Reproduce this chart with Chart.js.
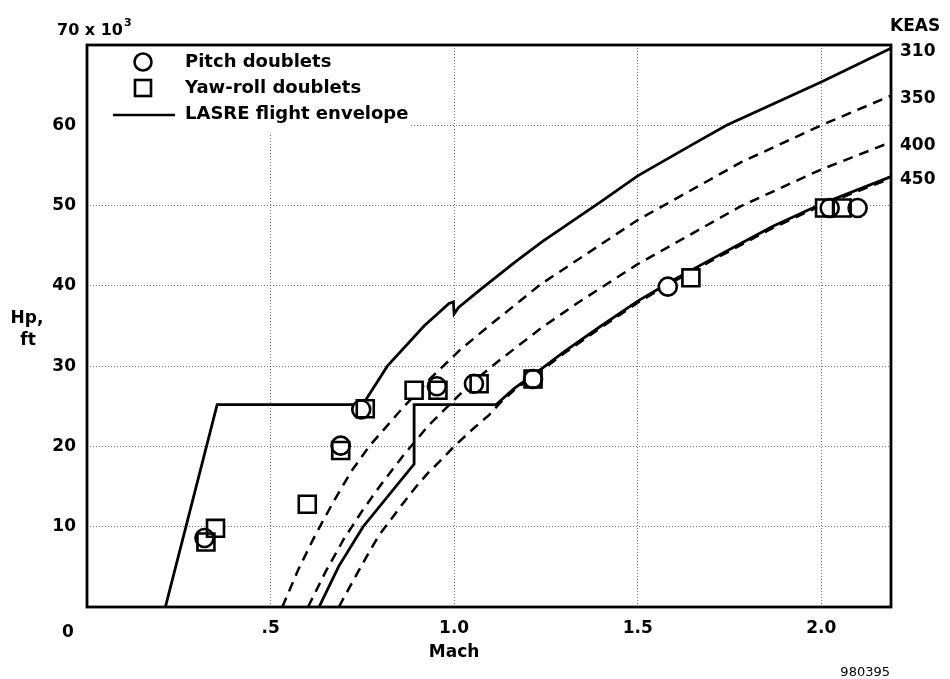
<!DOCTYPE html>
<html>
<head>
<meta charset="utf-8">
<title>LASRE flight envelope</title>
<script src="https://cdn.jsdelivr.net/npm/chart.js@4.4.1/dist/chart.umd.min.js"></script>
<style>
  html, body { margin: 0; padding: 0; background: #fff; }
</style>
</head>
<body>
<canvas id="envChart" width="950" height="679"></canvas>
<script>
// axis ticks (Mach, and Hp in thousands of ft)
const machTicks = [0, 0.5, 1.0, 1.5, 2.0];
const machTickLabels = ['', '.5', '1.0', '1.5', '2.0'];
const hpTicks = [0, 10, 20, 30, 40, 50, 60, 70];
const hpTickLabels = ['', '10', '20', '30', '40', '50', '60', ''];

// test points
const pitchMach = [0.32, 0.691, 0.747, 0.953, 1.054, 1.215, 1.582, 2.023, 2.099];
const pitchHp   = [8.6, 20.1, 24.6, 27.5, 27.8, 28.4, 39.9, 49.7, 49.7];
const yawMach = [0.324, 0.35, 0.6, 0.691, 0.758, 0.891, 0.956, 1.068, 1.215, 1.645, 2.009, 2.057];
const yawHp   = [8.1, 9.8, 12.8, 19.5, 24.7, 27.0, 27.0, 27.8, 28.4, 41.0, 49.7, 49.7];

// envelope boundaries (solid)
const upperMach = [0.2135, 0.3545, 0.751, 0.818, 0.918, 0.986, 0.998, 1.0, 1.012, 1.073, 1.164, 1.24, 1.291, 1.4, 1.5, 1.645, 1.742, 2.0, 2.19];
const upperHp   = [0, 25.2, 25.2, 30.0, 35.0, 37.8, 38.0, 36.5, 37.3, 39.6, 42.9, 45.5, 47.1, 50.5, 53.7, 57.5, 60.0, 65.4, 69.6];
const lowerMach = [0.632, 0.686, 0.752, 0.891, 0.891, 1.114, 1.163, 1.236, 1.3, 1.4, 1.5, 1.6, 1.7, 1.782, 1.867, 2.0, 2.19];
const lowerHp   = [0, 5.1, 10.0, 17.8, 25.2, 25.2, 27.2, 29.6, 31.8, 35.0, 38.1, 40.8, 43.3, 45.3, 47.4, 50.2, 53.6];

// constant KEAS lines (dashed)
const keas350Mach = [0.532, 0.575, 0.62, 0.67, 0.72, 0.77, 0.818, 0.862, 0.936, 1.018, 1.1, 1.236, 1.5, 1.782, 2.0, 2.19];
const keas350Hp   = [0, 4.6, 8.8, 13.0, 16.9, 20.1, 22.6, 24.9, 28.5, 32.1, 35.2, 40.2, 48.2, 55.4, 60.0, 63.7];
const keas400Mach = [0.602, 0.65, 0.70, 0.75, 0.80, 0.862, 0.93, 1.04, 1.12, 1.236, 1.337, 1.5, 1.78, 2.0, 2.19];
const keas400Hp   = [0, 4.4, 8.5, 12.0, 15.2, 18.9, 22.6, 27.6, 30.6, 34.7, 37.9, 42.7, 49.9, 54.5, 57.9];
const keas450Mach = [0.686, 0.718, 0.768, 0.795, 0.859, 0.893, 0.929, 0.971, 1.0, 1.054, 1.095, 1.127, 1.163, 1.236, 1.3, 1.4, 1.5, 1.6, 1.7, 1.782, 1.867, 2.0, 2.19];
const keas450Hp   = [0, 2.7, 6.8, 8.9, 12.8, 14.8, 16.7, 18.6, 20.0, 22.3, 23.9, 25.5, 27.0, 29.4, 31.6, 34.8, 37.9, 40.6, 43.1, 45.1, 47.2, 50.0, 53.4];

// right-hand labels for the constant KEAS lines
const keasLabels = ['310', '350', '400', '450'];

const toPts = (xs, ys) => xs.map((m, i) => ({ x: m, y: ys[i] }));

Chart.defaults.font.family = "'DejaVu Sans', sans-serif";
Chart.defaults.color = '#000';

const tickFont = { family: "'DejaVu Sans', sans-serif", weight: 'bold', size: 17 };
const gridColor = 'rgba(0,0,0,0.55)';

function markerSet(label, pts, style, radius, fill) {
  return {
    label: label,
    data: pts,
    showLine: false,
    pointStyle: style,
    pointRadius: radius,
    pointBorderWidth: fill ? 0 : 2.6,
    pointBorderColor: fill ? 'rgba(0,0,0,0)' : '#000',
    pointBackgroundColor: fill ? '#fff' : 'rgba(0,0,0,0)'
  };
}

function curveSet(label, pts, dashed) {
  return {
    label: label,
    data: pts,
    showLine: true,
    pointRadius: 0,
    borderColor: '#000',
    borderWidth: dashed ? 2.5 : 2.8,
    borderDash: dashed ? [10, 7] : [],
    tension: 0,
    fill: false
  };
}

const pitchPts = toPts(pitchMach, pitchHp);
const yawPts = toPts(yawMach, yawHp);
const upperPts = toPts(upperMach, upperHp);
const k350Pts = toPts(keas350Mach, keas350Hp);
const k400Pts = toPts(keas400Mach, keas400Hp);
const lowerPts = toPts(lowerMach, lowerHp);

// frame, legend, axis titles and KEAS labels
const envelopeDecor = {
  id: 'envelopeDecor',
  afterDatasetsDraw(chart) {
    const { ctx, chartArea: a, scales: { x, y } } = chart;
    ctx.save();
    ctx.setLineDash([]);

    // legend block
    ctx.fillStyle = '#fff';
    ctx.fillRect(a.left + 2, a.top + 2, 408 - a.left, 131 - a.top);
    ctx.strokeStyle = '#000';
    ctx.lineWidth = 2.6;
    ctx.beginPath();
    ctx.arc(143, 62, 8.5, 0, Math.PI * 2);
    ctx.stroke();
    ctx.strokeRect(135, 80, 16, 16);
    ctx.beginPath();
    ctx.moveTo(113, 115);
    ctx.lineTo(175, 115);
    ctx.stroke();

    ctx.fillStyle = '#000';
    ctx.textBaseline = 'middle';
    ctx.textAlign = 'left';
    ctx.font = "bold 18px 'DejaVu Sans', sans-serif";
    ctx.fillText('Pitch doublets', 185, 62);
    ctx.fillText('Yaw-roll doublets', 185, 88);
    ctx.fillText('LASRE flight envelope', 185, 114);

    // plot frame
    ctx.lineWidth = 2.8;
    ctx.strokeRect(a.left, a.top, a.right - a.left, a.bottom - a.top);

    // axis titles and corner labels
    ctx.font = "bold 16px 'DejaVu Sans', sans-serif";
    ctx.fillText('70 x 10', 57, 31);
    ctx.font = "bold 11px 'DejaVu Sans', sans-serif";
    ctx.fillText('3', 124, 23);

    ctx.font = "bold 17px 'DejaVu Sans', sans-serif";
    ctx.textAlign = 'center';
    ctx.fillText('0', 68, 633);
    ctx.fillText('Hp,', 27, 319);
    ctx.fillText('ft', 28, 341);
    ctx.fillText('Mach', x.getPixelForValue(1.0), 653);

    ctx.textAlign = 'left';
    ctx.fillText('KEAS', 890, 27);
    const ends = [upperHp, keas350Hp, keas400Hp, lowerHp];
    ends.forEach((hp, i) => {
      ctx.fillText(keasLabels[i], 900, y.getPixelForValue(hp[hp.length - 1]) + 3);
    });

    ctx.font = "13px 'DejaVu Sans', sans-serif";
    ctx.textAlign = 'right';
    ctx.fillText('980395', 890, 673);
    ctx.restore();
  }
};

new Chart(document.getElementById('envChart'), {
  type: 'scatter',
  data: {
    datasets: [
      markerSet('Pitch doublets', pitchPts, 'circle', 9, false),
      markerSet('Yaw-roll doublets', yawPts, 'rect', 12, false),
      markerSet('pitch fill', pitchPts, 'circle', 9, true),
      markerSet('yaw fill', yawPts, 'rect', 12, true),
      curveSet('LASRE flight envelope', upperPts, false),
      curveSet('envelope lower', lowerPts, false),
      curveSet('350 KEAS', k350Pts, true),
      curveSet('400 KEAS', k400Pts, true),
      curveSet('450 KEAS', toPts(keas450Mach, keas450Hp), true)
    ]
  },
  options: {
    responsive: false,
    animation: false,
    events: [],
    layout: { padding: { top: 45, right: 59, left: 0, bottom: 0 } },
    plugins: {
      legend: { display: false },
      tooltip: { enabled: false }
    },
    scales: {
      x: {
        type: 'linear',
        min: 0,
        max: 2.19,
        afterBuildTicks: s => { s.ticks = machTicks.map(v => ({ value: v })); },
        afterFit: s => { s.height = 72; },
        grid: { color: gridColor, lineWidth: 1, drawTicks: false },
        border: { display: false, dash: [1, 2] },
        ticks: {
          callback: (v, i) => machTickLabels[i],
          font: tickFont,
          color: '#000',
          padding: 11,
          maxRotation: 0,
          autoSkip: false
        }
      },
      y: {
        type: 'linear',
        min: 0,
        max: 70,
        afterBuildTicks: s => { s.ticks = hpTicks.map(v => ({ value: v })); },
        afterFit: s => { s.width = 87; },
        grid: { color: gridColor, lineWidth: 1, drawTicks: false },
        border: { display: false, dash: [1, 2] },
        ticks: {
          callback: (v, i) => hpTickLabels[i],
          font: tickFont,
          color: '#000',
          padding: 11,
          autoSkip: false
        }
      }
    }
  },
  plugins: [envelopeDecor]
});
</script>
</body>
</html>
